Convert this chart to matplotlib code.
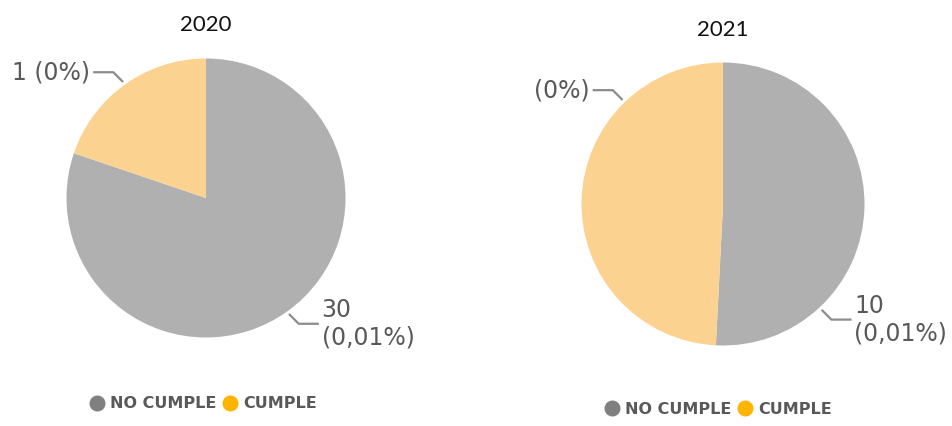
import numpy as np
import matplotlib
matplotlib.use('Agg')
import matplotlib.pyplot as plt
from matplotlib.lines import Line2D

# datos
categorias = ['NO CUMPLE', 'CUMPLE']
anios = ['2020', '2021']
# porcion de cada sector tal como se dibuja en la torta (%)
porc_2020 = [80.2, 19.8]
porc_2021 = [50.8, 49.2]
etiquetas_2020 = ['30\n(0,01%)', '1 (0%)']
etiquetas_2021 = ['10\n(0,01%)', '(0%)']

col_torta = ['#B0B0B0', '#FCD291']
col_leyenda = ['#808080', '#FFB400']
col_texto = '#595959'
col_guia = '#8C8C8C'

W, H = 952, 426
fig = plt.figure(figsize=(W / 100, H / 100), dpi=100)


def torta(cx, cy, r, valores, etiquetas, angulos, titulo, ty, ley):
    ax = fig.add_axes([(cx - r) / W, (H - cy - r) / H, 2 * r / W, 2 * r / H])
    wedges, _ = ax.pie(valores, colors=col_torta, startangle=90,
                       counterclock=False, radius=1,
                       wedgeprops={'linewidth': 0})
    ax.set_xlim(-1, 1)
    ax.set_ylim(-1, 1)
    ax.axis('off')

    for w, et, ang in zip(wedges, etiquetas, angulos):
        if ang is None:
            ang = (w.theta1 + w.theta2) / 2
        a = np.deg2rad(ang)
        sx = np.sign(np.cos(a))
        sy = np.sign(np.sin(a))
        p0 = np.array([np.cos(a), np.sin(a)]) * 1.03
        p1 = p0 + np.array([sx * 9, sy * 9]) / r
        p2 = p1 + np.array([sx * 19, 0]) / r
        ax.plot([p0[0], p1[0], p2[0]], [p0[1], p1[1], p2[1]],
                color=col_guia, lw=1.6, clip_on=False)
        ax.text(p2[0] + sx * 4 / r, p2[1], et, ha='left' if sx > 0 else 'right',
                va='center', fontsize=17, color=col_texto, linespacing=1.15,
                family='DejaVu Sans', clip_on=False)

    fig.text(cx / W, 1 - ty / H, titulo, ha='center', va='center',
             fontsize=16, family=['Lato', 'DejaVu Sans'], color='#111111')

    handles = [Line2D([], [], marker='o', ls='', color=c, markersize=10.5)
               for c in col_leyenda]
    fig.legend(handles, categorias, ncol=2, loc='center',
               bbox_to_anchor=(ley[0] / W, 1 - ley[1] / H), frameon=False,
               handletextpad=0.3, columnspacing=0.35, handlelength=1.0,
               prop={'family': 'DejaVu Sans', 'weight': 'bold', 'size': 11.5},
               labelcolor=col_texto, borderpad=0)


torta(206, 198, 139.5, porc_2020, etiquetas_2020, [None, None], anios[0], 25, (203, 404))
torta(723, 204, 141.5, porc_2021, etiquetas_2021, [-47, 134], anios[1], 30, (718, 409))

fig.savefig('out.png', dpi=100)
